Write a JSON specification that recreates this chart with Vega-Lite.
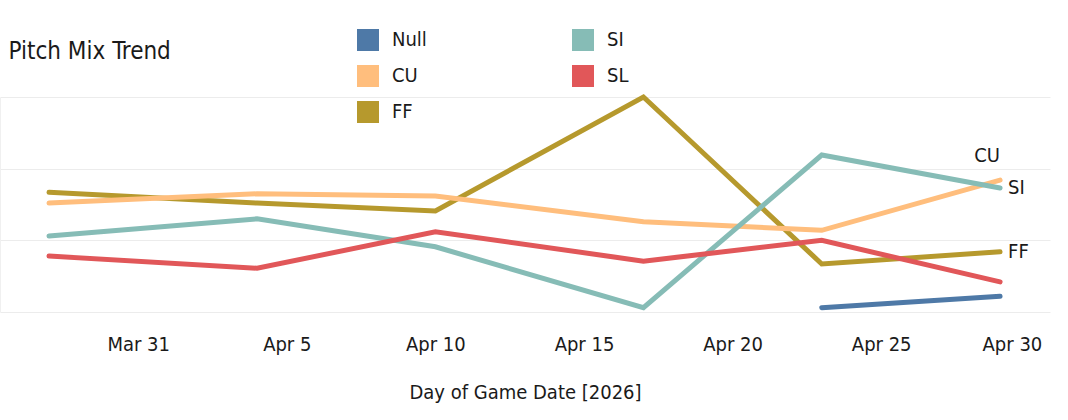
{
  "$schema": "https://vega.github.io/schema/vega-lite/v6.json",
  "width": 1050,
  "height": 215,
  "autosize": {"type": "none"},
  "padding": {"left": 0, "top": 97, "right": 18, "bottom": 108},
  "background": "white",
  "config": {
    "font": "'Liberation Sans Narrow', 'DejaVu Sans Condensed', 'Roboto Condensed', Roboto, sans-serif",
    "view": {"stroke": null}
  },
  "data": {
    "values": [
      {"date": "2026-03-28T00:00:00", "pitch": "FF", "value": 16.7},
      {"date": "2026-04-04T00:00:00", "pitch": "FF", "value": 15.2},
      {"date": "2026-04-10T00:00:00", "pitch": "FF", "value": 14.1},
      {"date": "2026-04-17T00:00:00", "pitch": "FF", "value": 30.0},
      {"date": "2026-04-23T00:00:00", "pitch": "FF", "value": 6.7},
      {"date": "2026-04-29T00:00:00", "pitch": "FF", "value": 8.4},
      {"date": "2026-03-28T00:00:00", "pitch": "CU", "value": 15.2},
      {"date": "2026-04-04T00:00:00", "pitch": "CU", "value": 16.5},
      {"date": "2026-04-10T00:00:00", "pitch": "CU", "value": 16.2},
      {"date": "2026-04-17T00:00:00", "pitch": "CU", "value": 12.6},
      {"date": "2026-04-23T00:00:00", "pitch": "CU", "value": 11.4},
      {"date": "2026-04-29T00:00:00", "pitch": "CU", "value": 18.4},
      {"date": "2026-03-28T00:00:00", "pitch": "SI", "value": 10.6},
      {"date": "2026-04-04T00:00:00", "pitch": "SI", "value": 13.0},
      {"date": "2026-04-10T00:00:00", "pitch": "SI", "value": 9.1},
      {"date": "2026-04-17T00:00:00", "pitch": "SI", "value": 0.6},
      {"date": "2026-04-23T00:00:00", "pitch": "SI", "value": 21.9},
      {"date": "2026-04-29T00:00:00", "pitch": "SI", "value": 17.3},
      {"date": "2026-03-28T00:00:00", "pitch": "SL", "value": 7.8},
      {"date": "2026-04-04T00:00:00", "pitch": "SL", "value": 6.1},
      {"date": "2026-04-10T00:00:00", "pitch": "SL", "value": 11.2},
      {"date": "2026-04-17T00:00:00", "pitch": "SL", "value": 7.1},
      {"date": "2026-04-23T00:00:00", "pitch": "SL", "value": 10.0},
      {"date": "2026-04-29T00:00:00", "pitch": "SL", "value": 4.2},
      {"date": "2026-04-23T00:00:00", "pitch": "Null", "value": 0.6},
      {"date": "2026-04-29T00:00:00", "pitch": "Null", "value": 2.2}
    ]
  },
  "encoding": {
    "x": {
      "field": "date",
      "type": "temporal",
      "scale": {
        "domain": [
          {"year": 2026, "month": 3, "date": 26, "hours": 8, "minutes": 25},
          {"year": 2026, "month": 4, "date": 30, "hours": 16, "minutes": 19}
        ]
      },
      "axis": {
        "title": "Day of Game Date [2026]",
        "values": [
          {"year": 2026, "month": 3, "date": 31},
          {"year": 2026, "month": 4, "date": 5},
          {"year": 2026, "month": 4, "date": 10},
          {"year": 2026, "month": 4, "date": 15},
          {"year": 2026, "month": 4, "date": 20},
          {"year": 2026, "month": 4, "date": 25},
          {"year": 2026, "month": 4, "date": 30}
        ],
        "format": "%b %-d",
        "grid": false,
        "domain": false,
        "ticks": false,
        "labelFontSize": 20,
        "labelColor": "#1a1a1a",
        "labelPadding": 22,
        "labelFlush": 25,
        "labelFlushOffset": 12,
        "labelBound": false,
        "titleFontSize": 20,
        "titleFontWeight": "normal",
        "titleColor": "#1a1a1a",
        "titlePadding": 28
      }
    },
    "y": {
      "field": "value",
      "type": "quantitative",
      "scale": {"domain": [0, 30]},
      "axis": {
        "title": "Pitch Mix Trend",
        "titleAngle": 0,
        "titleX": 8,
        "titleY": -39,
        "titleAlign": "left",
        "titleBaseline": "alphabetic",
        "titleFontSize": 24,
        "titleFontWeight": "normal",
        "titleColor": "#1a1a1a",
        "values": [0, 10, 20, 30],
        "labels": false,
        "ticks": false,
        "domain": true,
        "domainColor": "#f0f0f0",
        "grid": true,
        "gridColor": "#ececec",
        "gridWidth": 1
      }
    }
  },
  "layer": [
    {
      "mark": {"type": "line", "strokeWidth": 5, "strokeCap": "round", "strokeJoin": "miter"},
      "encoding": {
        "color": {
          "field": "pitch",
          "type": "nominal",
          "scale": {
            "domain": ["Null", "SI", "CU", "SL", "FF"],
            "range": ["#4e79a7", "#86bcb6", "#ffbe7d", "#e15759", "#b6992d"]
          },
          "legend": {
            "title": null,
            "orient": "none",
            "legendX": 357,
            "legendY": -68,
            "columns": 2,
            "direction": "horizontal",
            "symbolType": "square",
            "symbolSize": 484,
            "symbolStrokeWidth": 0,
            "symbolOpacity": 1,
            "labelFontSize": 20,
            "labelColor": "#1a1a1a",
            "labelOffset": 13,
            "rowPadding": 14,
            "columnPadding": 145,
            "padding": 0,
            "encode": {
              "symbols": {
                "update": {
                  "fill": {"scale": "color", "field": "value"},
                  "strokeWidth": {"value": 0}
                }
              }
            }
          }
        }
      }
    },
    {
      "transform": [
        {"filter": "datum.pitch === 'SI' || datum.pitch === 'FF'"},
        {"filter": {"timeUnit": "monthdate", "field": "date", "equal": {"month": 4, "date": 29}}}
      ],
      "mark": {"type": "text", "align": "left", "baseline": "middle", "dx": 8, "fontSize": 20, "color": "#1a1a1a"},
      "encoding": {"text": {"field": "pitch"}}
    },
    {
      "transform": [
        {"filter": "datum.pitch === 'CU'"},
        {"filter": {"timeUnit": "monthdate", "field": "date", "equal": {"month": 4, "date": 29}}}
      ],
      "mark": {"type": "text", "align": "center", "baseline": "middle", "dx": -13, "dy": -24, "fontSize": 20, "color": "#1a1a1a"},
      "encoding": {"text": {"field": "pitch"}}
    }
  ]
}
